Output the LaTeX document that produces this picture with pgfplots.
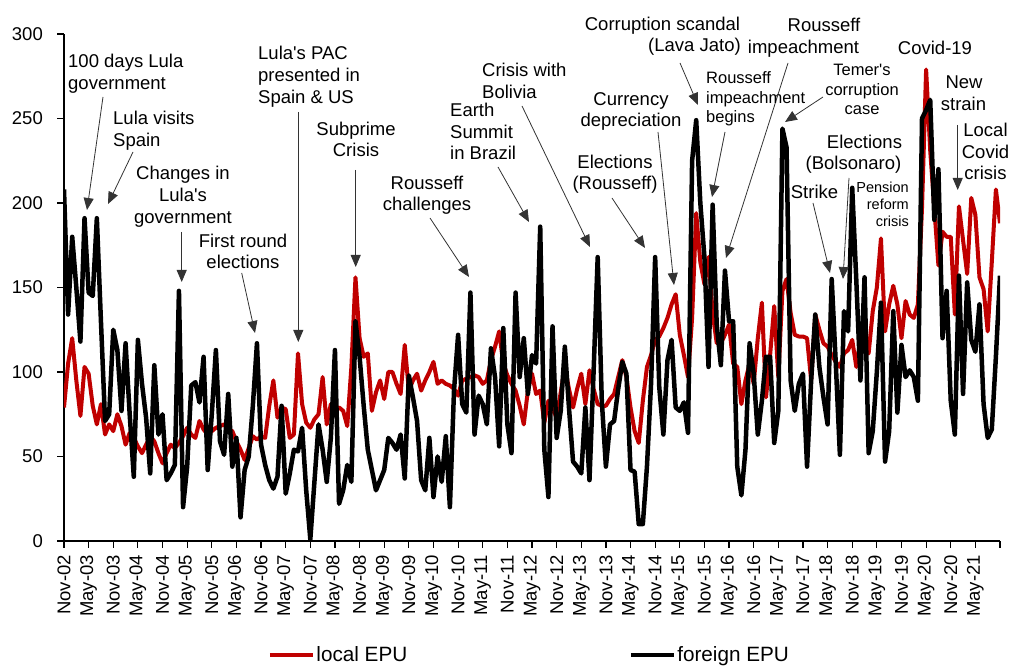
\documentclass[border=0pt]{standalone}
\usepackage{fontspec}
\setmainfont{Liberation Sans}
\usepackage{pgfplots}
\pgfplotsset{compat=1.18}
\usepackage{pgfplotstable}
\usetikzlibrary{arrows.meta}
\definecolor{epured}{RGB}{192,0,0}
\newcommand{\fa}{\fontsize{18.5}{21.7}\selectfont}
\newcommand{\fb}{\fontsize{16.5}{19.5}\selectfont}
\newcommand{\fc}{\fontsize{14.5}{17}\selectfont}
\newcommand{\fl}{\fontsize{20.7}{24}\selectfont}

\pgfplotstableread{
m local foreign
0 79 208
1 105 134
2 120 180
3 95 150
4 74 118
5 103 191
6 99 147
7 80 145
8 69 191
9 81 130
10 63 71
11 69 75
12 65 125
13 75 113
14 68 77
15 57 117
16 64 75
17 61 38
18 56 119
19 52 93
20 57 73
21 62 40
22 59 104
23 52 63
24 46 75
25 52 36
26 57 40
27 55 45
28 58 148
29 62 20
30 67 44
31 63 92
32 61 94
33 71 82
34 66 109
35 63 42
36 65 75
37 67 113
38 68 59
39 69 51
40 66 87
41 65 44
42 59 61
43 54 14
44 48 42
45 55 50
46 62 80
47 60 117
48 62 57
49 61 45
50 80 36
51 95 31
52 73 38
53 79 80
54 78 28
55 61 40
56 63 54
57 111 53
58 81 67
59 70 30
60 67 1
61 72 35
62 75 69
63 97 54
64 69 35
65 81 61
66 78 113
67 79 22
68 77 30
69 68 45
70 103 35
71 156 130
72 120 109
73 109 80
74 111 54
75 77 42
76 88 30
77 95 36
78 84 42
79 100 61
80 100 58
81 93 54
82 87 63
83 116 37
84 89 98
85 95 85
86 99 71
87 89 36
88 95 30
89 100 61
90 106 26
91 93 50
92 95 35
93 93 62
94 92 20
95 90 89
96 86 122
97 95 81
98 96 76
99 97 147
100 98 63
101 97 86
102 93 81
103 95 69
104 107 114
105 115 97
106 124 56
107 105 126
108 98 69
109 93 52
110 89 147
111 80 97
112 69 120
113 89 87
114 99 110
115 87 105
116 89 186
117 70 54
118 83 26
119 78 127
120 73 61
121 88 77
122 103 115
123 90 79
124 79 47
125 90 44
126 99 40
127 81 79
128 101 36
129 90 100
130 81 168
131 80 83
132 80 44
133 84 69
134 87 71
135 97 90
136 107 106
137 97 99
138 79 42
139 65 41
140 58 10
141 83 10
142 103 44
143 110 93
144 119 168
145 121 91
146 126 63
147 132 107
148 140 119
149 146 79
150 122 77
151 110 82
152 97 64
153 132 225
154 194 249
155 165 200
156 152 168
157 168 103
158 135 199
159 117 128
160 117 104
161 122 160
162 128 130
163 105 130
164 103 44
165 81 27
166 95 54
167 105 117
168 93 99
169 120 63
170 141 83
171 85 109
172 110 109
173 139 58
174 97 77
175 148 244
176 155 233
177 135 95
178 122 77
179 121 93
180 121 99
181 120 44
182 95 95
183 134 134
184 125 103
185 117 85
186 115 69
187 110 155
188 106 105
189 103 51
190 111 136
191 113 124
192 119 209
193 103 154
194 119 95
195 115 156
196 111 52
197 136 65
198 150 100
199 179 141
200 124 47
201 140 65
202 151 136
203 140 76
204 120 116
205 142 97
206 134 101
207 132 97
208 140 83
209 197 250
210 279 255
211 231 261
212 197 190
213 163 220
214 183 120
215 180 148
216 180 83
217 134 63
218 198 157
219 178 87
220 158 153
221 203 119
222 193 112
223 156 140
224 149 81
225 124 61
226 165 66
227 208 109
228 188 157
}\epudata

\begin{document}
\begin{tikzpicture}
\useasboundingbox (0pt,0pt) rectangle (1010pt,666pt);
\begin{axis}[
  at={(64pt,125pt)}, anchor=south west,
  scale only axis, width=936pt, height=507pt,
  xmin=0, xmax=228, ymin=0, ymax=300,
  axis lines=left,
  axis line style={-, line width=1.4pt, black},
  tick align=outside,
  major tick length=7pt,
  tick style={black, line width=1.2pt},
  ytick={0,50,...,300},
  xtick={0,6,...,228},
  xticklabels={Nov-02,May-03,Nov-03,May-04,Nov-04,May-05,Nov-05,May-06,Nov-06,May-07,Nov-07,May-08,Nov-08,May-09,Nov-09,May-10,Nov-10,May-11,Nov-11,May-12,Nov-12,May-13,Nov-13,May-14,Nov-14,May-15,Nov-15,May-16,Nov-16,May-17,Nov-17,May-18,Nov-18,May-19,Nov-19,May-20,Nov-20,May-21,{}},
  /pgf/number format/assume math mode=true,
  yticklabel shift=14pt,
  xticklabel shift=7pt,
  yticklabel style={font=\fa, anchor=east, inner sep=0pt},
  xticklabel style={font=\fa, rotate=90, anchor=east, inner sep=0pt},
  every axis plot/.append style={line join=round},
  legend style={at={(axis description cs:0.497,-0.2249)}, anchor=center, draw=none, fill=none,
    legend columns=2, font=\fl, inner sep=0pt, nodes={inner sep=1.5pt},
    /tikz/every even column/.append style={column sep=220pt}},
  legend image code/.code={\draw[#1, line width=4pt] (0pt,0pt) -- (43pt,0pt);},
]
\addplot[color=epured, line width=4pt, no markers] table[x=m, y=local] {\epudata};
\addlegendentry{local EPU}
\addplot[color=black, line width=4.5pt, no markers] table[x=m, y=foreign] {\epudata};
\addlegendentry{foreign EPU}
\end{axis}

\begin{scope}[x=1pt, y=-1pt, shift={(0pt,666pt)}]
\tikzset{ar/.style={draw=black!80, line width=0.8pt, -{Triangle[length=12pt,width=10pt]}},
  t/.style={font=\fa, inner sep=0pt, anchor=base},
  tl/.style={font=\fa, inner sep=0pt, anchor=base west}}
% arrows
\draw[ar] (103,97) -- (87,210);
\draw[ar] (133,152) -- (108,204);
\draw[ar] (181.7,232) -- (181.7,282);
\draw[ar] (241.7,273) -- (255,333);
\draw[ar] (298.3,112) -- (298.3,342);
\draw[ar] (355.7,170) -- (355.7,267);
\draw[ar] (430,218) -- (469,277);
\draw[ar] (498,167) -- (529,222);
\draw[ar] (522,106) -- (590,247);
\draw[ar] (658,132) -- (674,285);
\draw[ar] (612,198) -- (645,248);
\draw[ar] (680,63) -- (698,105);
\draw[ar] (725,132) -- (712,197);
\draw[ar] (788,63) -- (726,258);
\draw[ar] (823,97) -- (785,122);
\draw[ar] (849,178) -- (843,279);
\draw[ar] (813,203) -- (830,273);
\draw[ar] (957.7,125) -- (957.7,190);
% texts
\node[tl] at (68,68) {100 days Lula};
\node[tl] at (68,90) {government};
\node[tl] at (113,125) {Lula visits};
\node[tl] at (113,147) {Spain};
\node[t] at (183,180) {Changes in};
\node[t] at (183,202) {Lula\textquotesingle s};
\node[t] at (183,224) {government};
\node[t] at (243,247.5) {First round};
\node[t] at (243,269) {elections};
\node[tl] at (258,60) {Lula\textquotesingle s PAC};
\node[tl] at (258,82) {presented in};
\node[tl] at (258,104) {Spain \& US};
\node[t] at (356,135.5) {Subprime};
\node[t] at (356,157) {Crisis};
\node[t] at (427,189.5) {Rousseff};
\node[t] at (427,211) {challenges};
\node[tl] at (450,117) {Earth};
\node[tl] at (450,138.5) {Summit};
\node[tl] at (450,160) {in Brazil};
\node[tl] at (482,77) {Crisis with};
\node[tl] at (482,99) {Bolivia};
\node[t] at (631,105.5) {Currency};
\node[t] at (631,127) {depreciation};
\node[t] at (615,168.5) {Elections};
\node[t] at (615,190) {(Rousseff)};
\node[t] at (662.5,30.5) {Corruption scandal};
\node[t] at (694.5,52) {(Lava Jato)};
\node[t] at (824,32) {Rousseff};
\node[t] at (803.5,53.5) {impeachment};
\node[t] at (864.5,148.5) {Elections};
\node[t] at (853.5,170) {(Bolsonaro)};
\node[t] at (814.5,198.5) {Strike};
\node[t] at (935,55) {Covid-19};
\node[t] at (964,88.5) {New};
\node[t] at (963.5,111) {strain};
\node[t] at (985.5,137) {Local};
\node[t] at (985.5,159) {Covid};
\node[t] at (985.5,180) {crisis};
\node[font=\fb, inner sep=0pt, anchor=base west] at (706,84) {Rousseff};
\node[font=\fb, inner sep=0pt, anchor=base west] at (706,104) {impeachment};
\node[font=\fb, inner sep=0pt, anchor=base west] at (706,123) {begins};
\node[font=\fb, inner sep=0pt, anchor=base] at (862,76) {Temer\textquotesingle s};
\node[font=\fb, inner sep=0pt, anchor=base] at (862,96) {corruption};
\node[font=\fb, inner sep=0pt, anchor=base] at (862,115) {case};
\node[font=\fc, inner sep=0pt, anchor=base east] at (909,193) {Pension};
\node[font=\fc, inner sep=0pt, anchor=base east] at (909,210) {reform};
\node[font=\fc, inner sep=0pt, anchor=base east] at (909,227) {crisis};
\end{scope}
\end{tikzpicture}
\end{document}
